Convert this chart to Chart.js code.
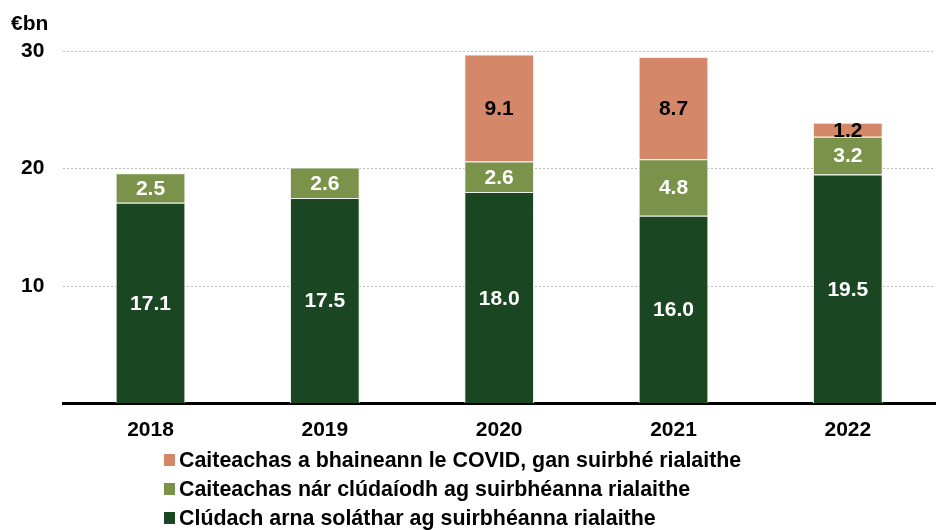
<!DOCTYPE html>
<html>
<head>
<meta charset="utf-8">
<script src="https://cdn.jsdelivr.net/npm/chart.js@4"></script>
<style>
  body { margin: 0; background: #fff; }
  #wrap { position: relative; width: 937px; height: 530px; }
</style>
</head>
<body>
<div id="wrap"><canvas id="spendChart"></canvas></div>
<script>
// chart data
var years = ['2018', '2019', '2020', '2021', '2022'];
var coveredValues = [17.1, 17.5, 18.0, 16.0, 19.5];
var uncoveredValues = [2.5, 2.6, 2.6, 4.8, 3.2];
var covidValues = [0, 0, 9.1, 8.7, 1.2];
var yTicks = [10, 20, 30];
var seriesNames = [
    'Clúdach arna soláthar ag suirbhéanna rialaithe',
    'Caiteachas nár clúdaíodh ag suirbhéanna rialaithe',
    'Caiteachas a bhaineann le COVID, gan suirbhé rialaithe'
];

var FONT = '"Liberation Sans", Arial, sans-serif';

// value labels inside each bar segment + unit label + legend
var extrasPlugin = {
    id: 'extras',
    afterDatasetsDraw: function (chart) {
        var ctx = chart.ctx;
        ctx.save();
        ctx.font = 'bold 21px ' + FONT;
        ctx.textAlign = 'center';
        ctx.textBaseline = 'middle';
        chart.data.datasets.forEach(function (ds, i) {
            var meta = chart.getDatasetMeta(i);
            meta.data.forEach(function (bar, j) {
                var v = ds.data[j];
                if (!v) return;
                ctx.fillStyle = ds.labelColor;
                ctx.fillText(v.toFixed(1), bar.x, (bar.y + bar.base) / 2 + 1);
            });
        });
        ctx.restore();
    },
    afterDraw: function (chart) {
        var ctx = chart.ctx;
        ctx.save();
        ctx.fillStyle = '#000';
        ctx.font = 'bold 21px ' + FONT;
        ctx.textAlign = 'left';
        ctx.textBaseline = 'middle';
        ctx.fillText('€bn', 11, 24);

        // legend, top series first
        var rows = chart.data.datasets.slice().reverse();
        var y0 = 460;
        rows.forEach(function (ds, k) {
            var y = y0 + k * 29;
            ctx.fillStyle = ds.backgroundColor;
            ctx.fillRect(164, y - 6, 11, 12);
            ctx.fillStyle = '#000';
            ctx.font = 'bold 21.4px ' + FONT;
            ctx.fillText(ds.label, 179, y + 1);
        });
        ctx.restore();
    }
};

var ctx = document.getElementById('spendChart').getContext('2d');
var spendChart = new Chart(ctx, {
    type: 'bar',
    data: {
        labels: years,
        datasets: [{
            label: seriesNames[0],
            data: coveredValues,
            backgroundColor: '#1B4622',
            labelColor: '#ffffff'
        }, {
            label: seriesNames[1],
            data: uncoveredValues,
            backgroundColor: '#7A924A',
            labelColor: '#ffffff'
        }, {
            label: seriesNames[2],
            data: covidValues,
            backgroundColor: '#D5876A',
            labelColor: '#000000'
        }]
    },
    options: {
        responsive: true,
        maintainAspectRatio: false,
        animation: false,
        barPercentage: 0.8,
        categoryPercentage: 0.5,
        borderColor: '#eef2ee',
        borderWidth: 1,
        layout: {
            padding: { top: 51, left: 2, right: 2, bottom: 73 }
        },
        scales: {
            x: {
                stacked: true,
                grid: { display: false, drawTicks: false },
                border: { display: true, color: '#000', width: 3 },
                ticks: {
                    color: '#000',
                    padding: 14,
                    font: { family: FONT, size: 21, weight: 'bold' }
                }
            },
            y: {
                stacked: true,
                min: 0,
                max: 30,
                afterBuildTicks: function (axis) {
                    axis.ticks = [0].concat(yTicks).map(function (v) { return { value: v }; });
                },
                border: { display: false, dash: [2, 2] },
                grid: {
                    drawTicks: false,
                    color: function (c) { return c.tick && c.tick.value === 0 ? 'rgba(0,0,0,0)' : '#bcbcbc'; },
                    lineWidth: 1
                },
                ticks: {
                    color: '#000',
                    padding: 19,
                    font: { family: FONT, size: 21, weight: 'bold' },
                    callback: function (v) { return v === 0 ? '' : v; }
                }
            }
        },
        plugins: {
            legend: { display: false },
            tooltip: { enabled: false }
        }
    },
    plugins: [extrasPlugin]
});
</script>
</body>
</html>
